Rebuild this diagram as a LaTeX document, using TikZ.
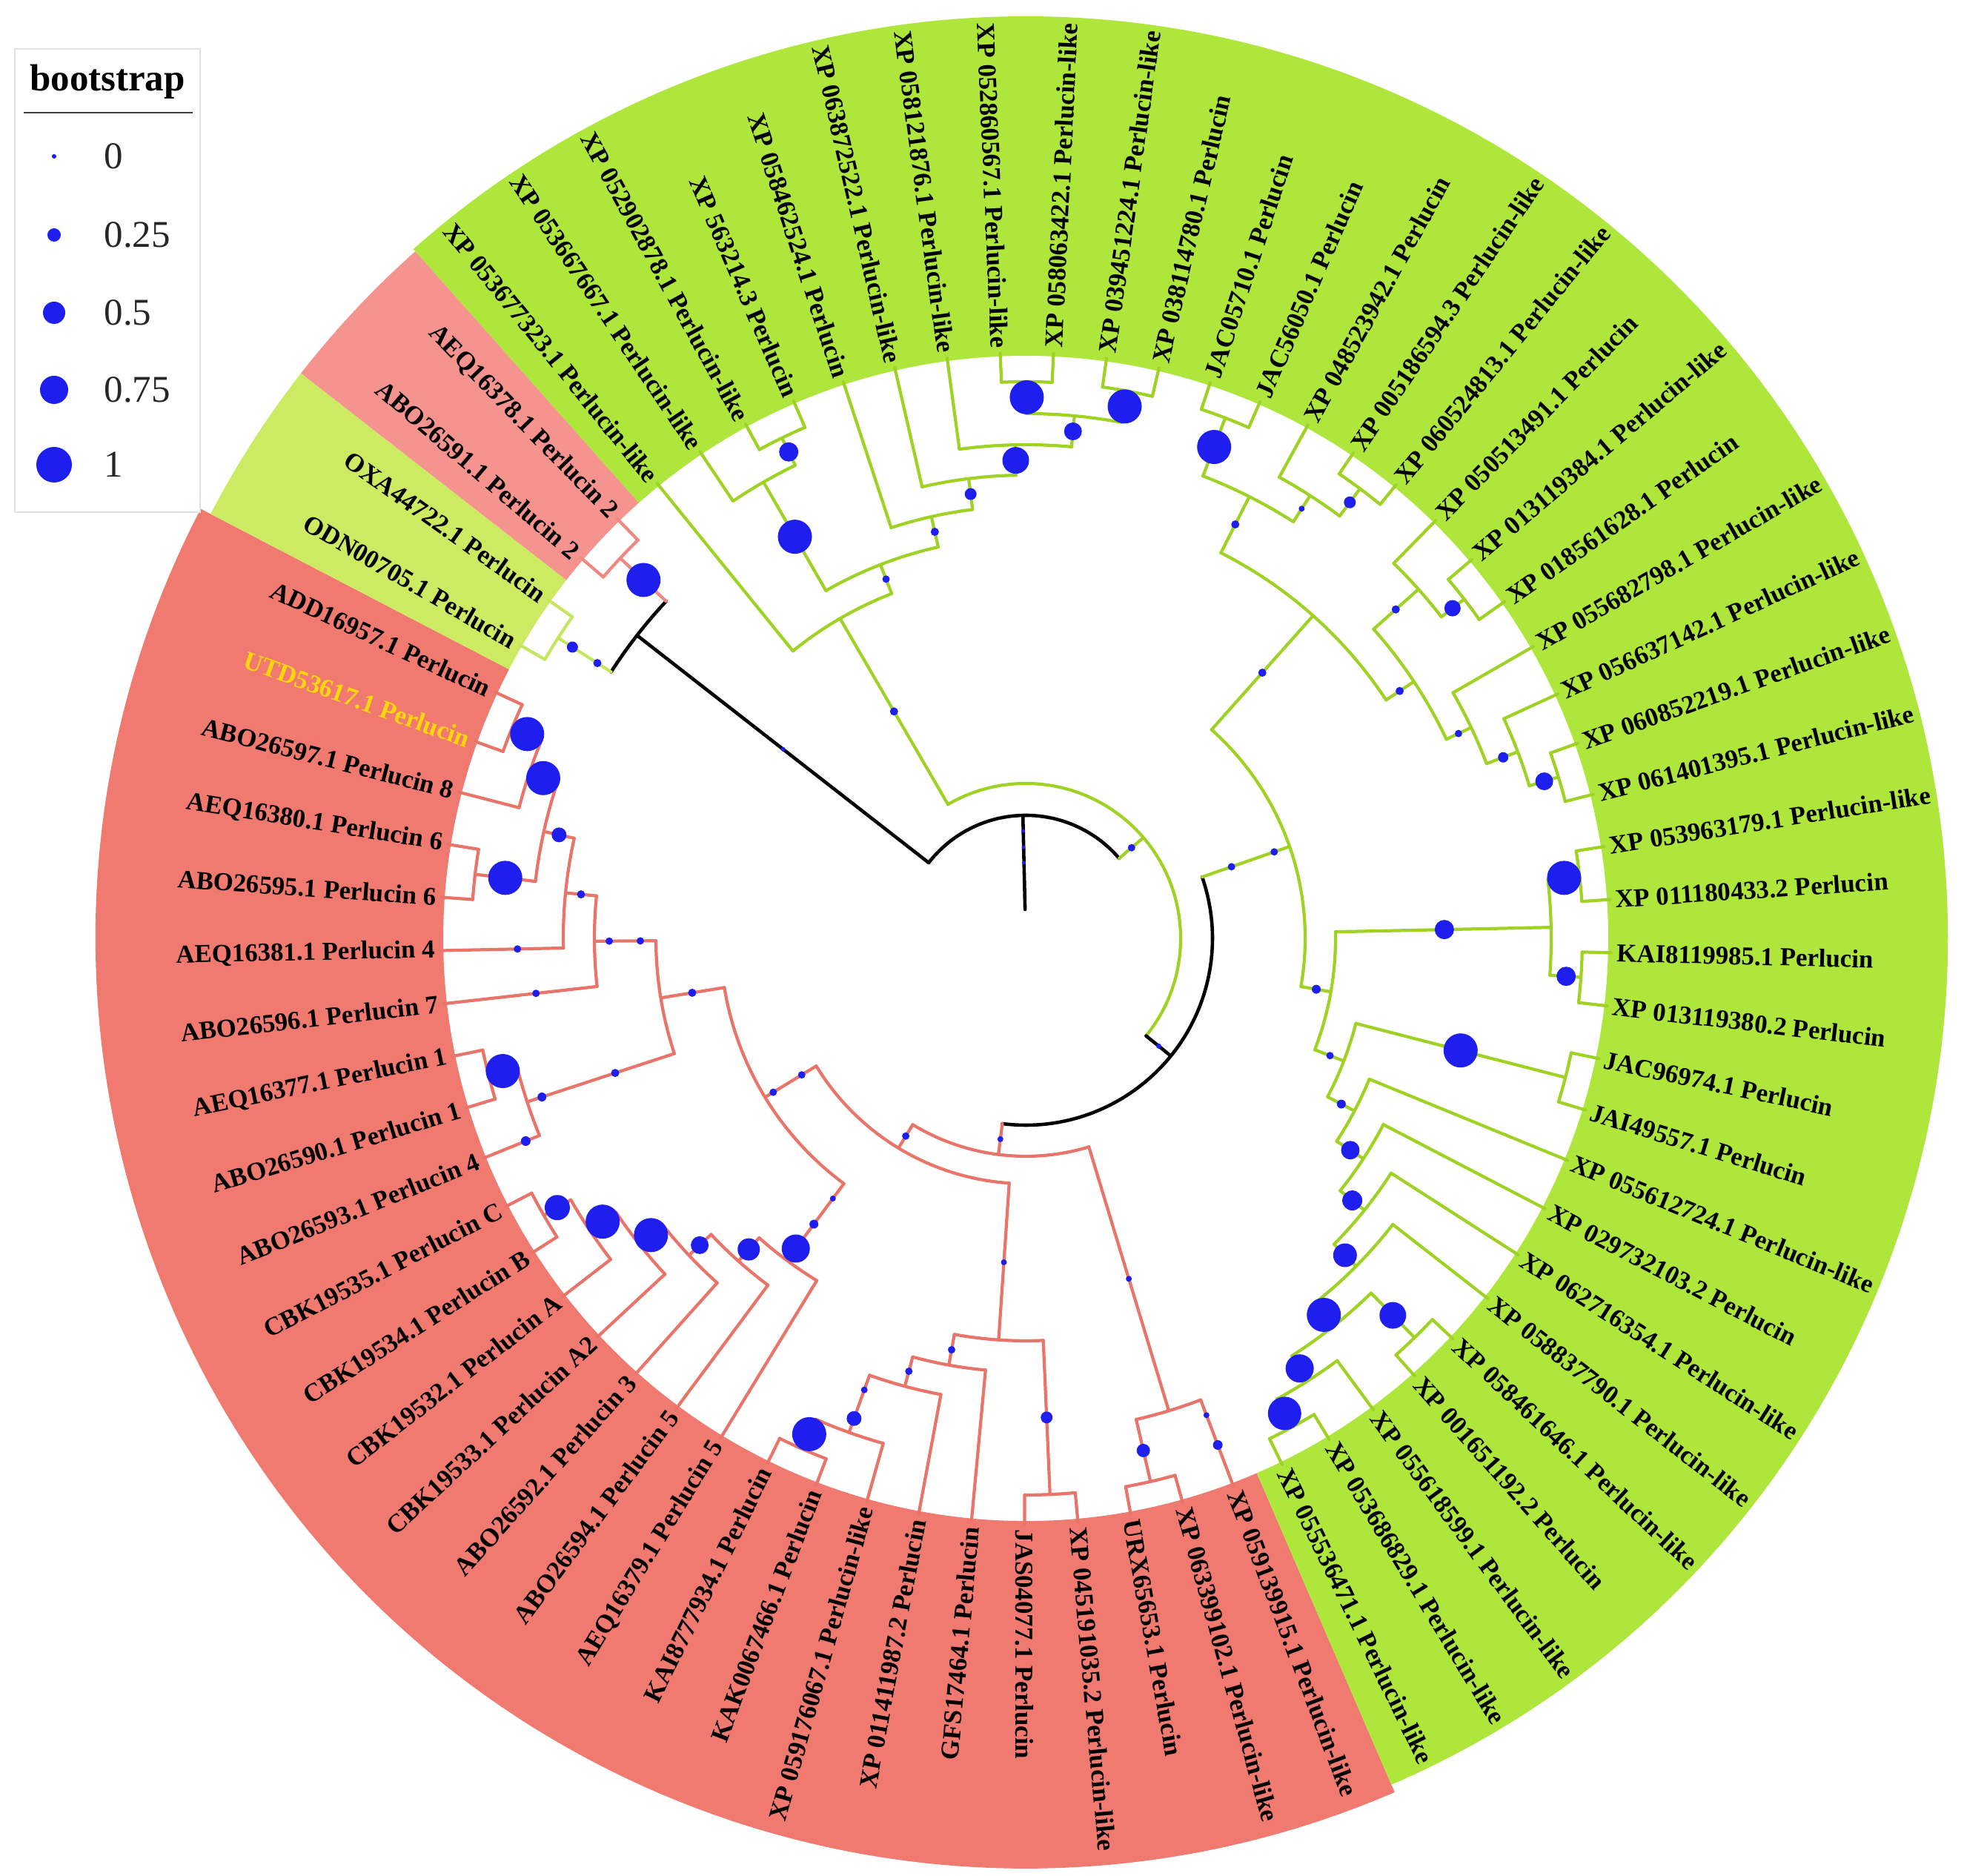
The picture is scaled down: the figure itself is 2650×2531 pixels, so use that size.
\documentclass[tikz,border=0pt]{standalone}
\usepackage{fontspec}
\setmainfont{Liberation Serif}
\definecolor{gband}{RGB}{174,230,60}
\definecolor{rband}{RGB}{240,122,112}
\definecolor{pband}{RGB}{245,148,143}
\definecolor{lband}{RGB}{205,235,98}
\definecolor{gline}{RGB}{160,210,38}
\definecolor{rline}{RGB}{232,116,106}
\definecolor{pline}{RGB}{238,136,130}
\definecolor{lline}{RGB}{198,230,96}
\definecolor{bsblue}{RGB}{30,30,238}
\definecolor{tipgold}{RGB}{255,214,10}
\definecolor{legline}{RGB}{225,225,225}

\begin{document}
\begin{tikzpicture}[x=0.01cm,y=0.01cm,
  gbr/.style={draw=gline,line width=1.2pt,line cap=round},
  rbr/.style={draw=rline,line width=1.2pt,line cap=round},
  pbr/.style={draw=pline,line width=1.2pt,line cap=round},
  lbr/.style={draw=lline,line width=1.2pt,line cap=round},
  kbr/.style={draw=black,line width=1.3pt,line cap=round},
  lbl/.style={font=\bfseries\fontsize{9.9}{11}\selectfont,inner sep=0pt}]
\useasboundingbox (0,0) rectangle (2650,2531);
\clip (0,0) rectangle (2650,2531);

\begin{scope}[shift={(1384,1265)}]
% clade bands behind the labels
\foreach \col/\ca/\cb/\ro in {rband/152.5/293.37/1255, gband/293.37/491.63/1244,
    pband/131.63/142.07/1240, lband/142.07/152.5/1240}
  \fill[\col] (\ca:786) -- (\ca:\ro) arc[start angle=\ca,end angle=\cb,radius=\ro]
    -- (\cb:786) arc[start angle=\cb,end angle=\ca,radius=786] -- cycle;

% root
\draw[kbr] (91.32:39) -- (91.32:166) (40.565:166) arc[start angle=40.565,end angle=142.07,radius=166];

% internal nodes: style/angle/parent r/r/first child/last child
\foreach \st/\ang/\rin/\rout/\ca/\cb in {
  kbr/142.07/166/665/136.85/147.28, pbr/136.85/665/750/134.24/139.46,
  lbr/147.28/665/750/144.67/149.89, gbr/40.565/166/209/-39.01/120.14,
  kbr/-39.01/209/252/262.80/379.185,
  gbr/120.14/209/499/111.25/129.02, gbr/111.25/499/541/102.61/119.89,
  gbr/102.61/541/583/97.07/108.15, gbr/97.07/583/625/91.20/102.93,
  gbr/91.20/625/666/84.675/97.72, gbr/84.675/666/708/79.46/89.89,
  gbr/79.46/708/751/76.85/82.07, gbr/89.89/708/751/87.28/92.50,
  gbr/119.89/541/710/115.98/123.80, gbr/115.98/710/751/113.37/118.59,
  gbr/379.185/252/377/350.06/408.31, gbr/408.31/377/583/393.48/423.15,
  gbr/423.15/583/668/417.285/429.02, gbr/429.02/668/752/426.41/431.63,
  gbr/417.285/668/710/413.37/421.20, gbr/413.37/710/756/410.76/415.98,
  gbr/393.48/583/628/385.325/401.63, gbr/401.63/628/709/397.72/405.54,
  gbr/397.72/709/748/395.11/400.33, gbr/385.325/628/665/380.76/389.89,
  gbr/380.76/665/710/376.85/384.67, gbr/376.85/710/751/374.24/379.46,
  gbr/350.06/377/418/338.92/361.20, gbr/361.20/418/709/355.98/366.41,
  gbr/366.41/709/752/363.80/369.02, gbr/355.98/709/751/353.37/358.59,
  gbr/338.92/418/460/332.30/345.545, gbr/345.545/460/752/342.94/348.15,
  gbr/332.30/460/501/326.875/337.72, gbr/326.875/501/544/321.25/332.50,
  gbr/321.25/544/586/315.22/327.28, gbr/315.22/586/628/308.37/322.07,
  gbr/308.37/628/668/302.50/314.24, gbr/314.24/668/752/311.63/316.85,
  gbr/302.50/668/708/298.59/306.41, gbr/298.59/708/751/295.98/301.20,
  rbr/262.80/252/294/238.75/286.85, rbr/238.75/294/331/211.36/266.14,
  rbr/286.85/294/666/282.935/290.76, rbr/282.935/666/752/280.33/285.54,
  rbr/211.36/331/412/189.27/233.45, rbr/266.14/331/543/259.785/272.50,
  rbr/272.50/543/751/269.89/275.11, rbr/259.785/543/585/254.89/264.68,
  rbr/254.89/585/626/250.325/259.46, rbr/250.325/626/708/246.41/254.24,
  rbr/246.41/708/752/243.80/249.02, rbr/189.27/412/499/180.38/198.155,
  rbr/180.38/499/582/174.35/186.41, rbr/174.35/582/624/167.50/181.20,
  rbr/167.50/624/666/161.63/173.37, rbr/161.63/666/706/157.72/165.54,
  rbr/157.72/706/749/155.11/160.33, rbr/173.37/666/748/170.76/175.98,
  rbr/198.155/499/708/194.24/202.07, rbr/194.24/708/748/191.63/196.85,
  rbr/233.45/412/541/228.315/238.59, rbr/228.315/541/583/223.26/233.37,
  rbr/223.26/583/624/218.37/228.15, rbr/218.37/624/665/213.805/222.94,
  rbr/213.805/665/708/209.89/217.72, rbr/209.89/708/750/207.28/212.50}
  \draw[\st] (\ang:\rin) -- (\ang:\rout) (\ca:\rout) arc[start angle=\ca,end angle=\cb,radius=\rout];

% tips
\foreach \st/\ang/\rin in {
  gbr/129.02/499, gbr/108.15/583, gbr/102.93/625, gbr/97.72/666, gbr/76.85/751,
  gbr/82.07/751, gbr/87.28/751, gbr/92.50/751, gbr/123.80/710, gbr/113.37/751,
  gbr/118.59/751, pbr/134.24/750, pbr/139.46/750, lbr/144.67/750, lbr/149.89/750,
  gbr/426.41/752, gbr/431.63/752, gbr/421.20/710, gbr/410.76/756, gbr/415.98/756,
  gbr/405.54/709, gbr/395.11/748, gbr/400.33/748, gbr/389.89/665, gbr/384.67/710,
  gbr/374.24/751, gbr/379.46/751, gbr/363.80/752, gbr/369.02/752, gbr/353.37/751,
  gbr/358.59/751, gbr/342.94/752, gbr/348.15/752, gbr/337.72/501, gbr/332.50/544,
  gbr/327.28/586, gbr/322.07/628, gbr/311.63/752, gbr/316.85/752, gbr/306.41/708,
  gbr/295.98/751, gbr/301.20/751,
  rbr/290.76/666, rbr/280.33/752, rbr/285.54/752, rbr/269.89/751, rbr/275.11/751,
  rbr/264.68/585, rbr/259.46/626, rbr/254.24/708, rbr/243.80/752, rbr/249.02/752,
  rbr/186.41/582, rbr/181.20/624, rbr/165.54/706, rbr/155.11/749, rbr/160.33/749,
  rbr/170.76/748, rbr/175.98/748, rbr/202.07/708, rbr/191.63/748, rbr/196.85/748,
  rbr/238.59/541, rbr/233.37/583, rbr/228.15/624, rbr/222.94/665, rbr/217.72/708,
  rbr/207.28/750, rbr/212.50/750}
  \draw[\st] (\ang:\rin) -- (\ang:790);

% bootstrap dots
\foreach \ang/\rr/\sz in {
  91.32/145/2.5, 91.32/123/2.5, 91.32/102/2.5, 40.565/188/5, -39.01/231/3.5, 142.07/415/3,
  136.85/707/23, 147.28/687/5.5, 147.28/727/7.5,
  120.14/354/5.5, 111.25/520/5, 102.61/562/5.5, 97.07/604/8, 91.20/645/18, 84.675/687/12,
  79.46/730/23, 89.89/730/23, 119.89/625/23, 115.98/730/13,
  19.185/294/5, 19.185/355/5, 48.31/480/5.5, 63.15/626/5.5, 69.02/710/23, 57.285/689/4,
  53.37/733/8, 33.48/605/5.5, 41.63/668/5.5, 37.72/728/11, 25.325/646/5, 20.76/689/7,
  16.85/731/12, -9.94/398/6, 1.20/565/13, 6.41/731/23, -4.02/731/13, -21.08/440/5,
  -14.455/606/23, -27.70/481/6, -33.125/523/12.5, -38.75/565/13.5, -44.78/607/16,
  -51.63/648/23, -45.76/710/18, -57.50/688/19, -61.41/730/22.5,
  262.80/273/4, 238.75/312/5, 286.85/480/4, 282.935/709/9, 290.76/688/4, 290.76/731/6.5,
  211.36/354/5, 211.36/399/5, 266.14/438/4, 272.50/647/8, 259.785/564/5, 254.89/605/5,
  250.325/647/4.5, 250.325/688/10, 246.41/730/23,
  189.27/456/5.5, 180.38/520/5, 180.38/562/5, 174.35/603/5.5, 167.50/645/10,
  161.63/686/23, 157.72/727/23, 173.37/707/23, 181.20/686/5, 186.41/665/5,
  198.155/583/5.5, 198.155/687/6, 194.24/728/23, 202.07/728/6.5,
  233.45/437/4, 233.45/480/6, 233.45/521/19, 228.315/562/15, 223.26/604/12,
  218.37/645/23, 213.805/687/23, 209.89/729/17}
  \fill[bsblue] (\ang:\rr) circle[radius=\sz];

% tip labels
\foreach \i/\nm in {
  0/XP 052860567.1 Perlucin-like, 1/XP 058121876.1 Perlucin-like,
  2/XP 063872522.1 Perlucin-like, 3/XP 058462524.1 Perlucin, 4/XP 563214.3 Perlucin,
  5/XP 052902878.1 Perlucin-like, 6/XP 053667667.1 Perlucin-like,
  7/XP 053677323.1 Perlucin-like, 8/AEQ16378.1 Perlucin 2, 9/ABO26591.1 Perlucin 2,
  10/OXA44722.1 Perlucin, 11/ODN00705.1 Perlucin, 12/ADD16957.1 Perlucin,
  13/UTD53617.1 Perlucin, 14/ABO26597.1 Perlucin 8, 15/AEQ16380.1 Perlucin 6,
  16/ABO26595.1 Perlucin 6, 17/AEQ16381.1 Perlucin 4, 18/ABO26596.1 Perlucin 7,
  19/AEQ16377.1 Perlucin 1, 20/ABO26590.1 Perlucin 1, 21/ABO26593.1 Perlucin 4,
  22/CBK19535.1 Perlucin C, 23/CBK19534.1 Perlucin B, 24/CBK19532.1 Perlucin A,
  25/CBK19533.1 Perlucin A2, 26/ABO26592.1 Perlucin 3, 27/ABO26594.1 Perlucin 5,
  28/AEQ16379.1 Perlucin 5, 29/KAI8777934.1 Perlucin, 30/KAK0067466.1 Perlucin,
  31/XP 059176067.1 Perlucin-like, 32/XP 011411987.2 Perlucin, 33/GFS17464.1 Perlucin,
  34/JAS04077.1 Perlucin, 35/XP 045191035.2 Perlucin-like, 36/URX65653.1 Perlucin,
  37/XP 063399102.1 Perlucin-like, 38/XP 059139915.1 Perlucin-like,
  39/XP 055536471.1 Perlucin-like, 40/XP 053686829.1 Perlucin-like,
  41/XP 055618599.1 Perlucin-like, 42/XP 001651192.2 Perlucin,
  43/XP 058461646.1 Perlucin-like, 44/XP 058837790.1 Perlucin-like,
  45/XP 062716354.1 Perlucin-like, 46/XP 029732103.2 Perlucin,
  47/XP 055612724.1 Perlucin-like, 48/JAI49557.1 Perlucin, 49/JAC96974.1 Perlucin,
  50/XP 013119380.2 Perlucin, 51/KAI8119985.1 Perlucin, 52/XP 011180433.2 Perlucin,
  53/XP 053963179.1 Perlucin-like, 54/XP 061401395.1 Perlucin-like,
  55/XP 060852219.1 Perlucin-like, 56/XP 056637142.1 Perlucin-like,
  57/XP 055682798.1 Perlucin-like, 58/XP 018561628.1 Perlucin,
  59/XP 013119384.1 Perlucin-like, 60/XP 050513491.1 Perlucin,
  61/XP 060524813.1 Perlucin-like, 62/XP 005186594.3 Perlucin-like,
  63/XP 048523942.1 Perlucin, 64/JAC56050.1 Perlucin, 65/JAC05710.1 Perlucin,
  66/XP 038114780.1 Perlucin, 67/XP 039451224.1 Perlucin-like,
  68/XP 058063422.1 Perlucin-like} {
  \pgfmathsetmacro{\ang}{92.5+5.2174*\i}
  \pgfmathtruncatemacro{\fl}{\ang<269.5}
  \ifnum\i=13 \def\tc{tipgold}\else\def\tc{black}\fi
  \ifnum\fl=1
    \node[lbl,text=\tc,anchor=east,rotate=\ang-180] (lf\i) at (\ang:797) {\nm};
  \else
    \node[lbl,text=\tc,anchor=west,rotate=\ang] (lf\i) at (\ang:797) {\nm};
  \fi
}
\end{scope}

% legend
\draw[draw=legline,fill=white] (20,1840) rectangle (270,2465);
\node[font=\bfseries\fontsize{14.5}{16}\selectfont] (legtitle) at (145,2421) {bootstrap};
\draw[black!75,line width=0.6pt] (32,2379) -- (260,2379);
\foreach \v/\sz/\yy [count=\n] in {0/3/2320, 0.25/9/2214, 0.5/15/2109, 0.75/19/2005, 1/24/1904} {
  \fill[bsblue] (73,\yy) circle[radius=\sz];
  \node[font=\fontsize{14.5}{16}\selectfont,text=black!85,anchor=west,inner sep=0pt] (leg\n) at (140,\yy) {\v};
}
\end{tikzpicture}
\end{document}
